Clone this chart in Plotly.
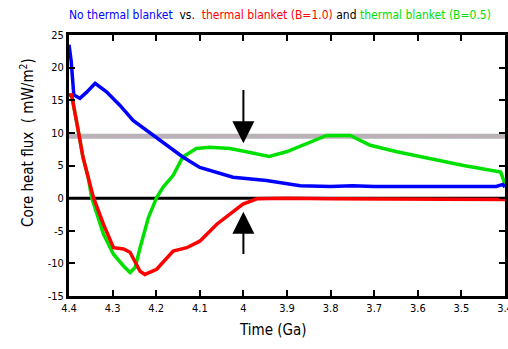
import plotly.graph_objects as go

# Time (Ga) and core heat flux (mW/m^2)
t_blue = [4.4, 4.395, 4.389, 4.375, 4.36, 4.34, 4.314, 4.283, 4.253, 4.222, 4.191, 4.139, 4.1, 4.024, 3.947, 3.87, 3.8, 3.75, 3.7, 3.6, 3.5, 3.42, 3.405, 3.4]
f_blue = [23.5, 21.0, 15.8, 15.3, 16.2, 17.6, 16.3, 14.2, 11.9, 10.4, 8.8, 6.3, 4.7, 3.2, 2.7, 1.9, 1.8, 1.9, 1.8, 1.8, 1.8, 1.8, 2.1, 1.7]

t_red = [4.4, 4.394, 4.379, 4.368, 4.356, 4.344, 4.321, 4.298, 4.275, 4.26, 4.237, 4.226, 4.199, 4.161, 4.13, 4.1, 4.061, 4.024, 4.001, 3.969, 3.9, 3.8, 3.7, 3.6, 3.5, 3.4]
f_red = [15.8, 15.8, 10.4, 6.3, 3.2, 0.1, -4.0, -7.6, -7.8, -8.3, -11.2, -11.7, -10.9, -8.1, -7.6, -6.6, -4.0, -2.0, -0.9, -0.1, 0.0, -0.1, -0.1, -0.2, -0.2, -0.2]

t_green = [4.4, 4.394, 4.379, 4.368, 4.356, 4.348, 4.321, 4.298, 4.275, 4.26, 4.248, 4.237, 4.218, 4.199, 4.184, 4.161, 4.139, 4.108, 4.077, 4.031, 3.993, 3.941, 3.901, 3.863, 3.809, 3.755, 3.709, 3.648, 3.571, 3.495, 3.41, 3.4]
f_green = [15.8, 15.8, 10.4, 6.3, 3.2, 0.1, -5.5, -8.6, -10.4, -11.4, -10.6, -7.6, -3.0, 0.1, 1.7, 3.5, 6.3, 7.6, 7.8, 7.6, 7.1, 6.4, 7.1, 8.1, 9.6, 9.6, 8.1, 7.1, 6.0, 5.0, 4.0, 2.2]

ref_level = 9.5
x_ticks = [4.4, 4.3, 4.2, 4.1, 4.0, 3.9, 3.8, 3.7, 3.6, 3.5, 3.4]
x_labels = ["4.4", "4.3", "4.2", "4.1", "4", "3.9", "3.8", "3.7", "3.6", "3.5", "3.4"]
y_ticks = [25, 20, 15, 10, 5, 0, -5, -10, -15]
y_labels = ["25", "20", "15", "10", "5", "0", "-5", "-10", "-15"]

font_fam = "DejaVu Sans Condensed, Liberation Sans, Arial"

fig = go.Figure()
fig.add_trace(go.Scatter(x=[4.4, 3.4], y=[ref_level, ref_level], mode="lines",
                         line=dict(color="#b4b4b4", width=5), hoverinfo="skip"))
fig.add_trace(go.Scatter(x=[4.4, 3.4], y=[ref_level, ref_level], mode="lines",
                         line=dict(color="#d9a0c8", width=1.5, dash="dot"), hoverinfo="skip"))
fig.add_trace(go.Scatter(x=[4.4, 3.4], y=[0, 0], mode="lines",
                         line=dict(color="black", width=3), hoverinfo="skip"))
fig.add_trace(go.Scatter(x=t_green, y=f_green, mode="lines",
                         line=dict(color="#00e000", width=3.5)))
fig.add_trace(go.Scatter(x=t_blue, y=f_blue, mode="lines",
                         line=dict(color="#0000ff", width=3.5)))
fig.add_trace(go.Scatter(x=t_red, y=f_red, mode="lines",
                         line=dict(color="#ff0000", width=3.5)))

# arrows
fig.add_annotation(x=4.0, y=8.4, ax=4.0, ay=16.8, xref="x", yref="y", axref="x", ayref="y",
                   text="", showarrow=True, arrowhead=2, arrowsize=2.2, arrowwidth=2, arrowcolor="black")
fig.add_annotation(x=4.0, y=-2.1, ax=4.0, ay=-8.8, xref="x", yref="y", axref="x", ayref="y",
                   text="", showarrow=True, arrowhead=2, arrowsize=2.2, arrowwidth=2, arrowcolor="black")

title = ('<span style="color:#0000ff">No thermal blanket</span>'
         '<span style="color:black">  vs.  </span>'
         '<span style="color:#ff0000">thermal blanket (B=1.0)</span>'
         '<span style="color:black"> and </span>'
         '<span style="color:#00e000">thermal blanket (B=0.5)</span>')
fig.add_annotation(x=(67 - 69) / 436, y=1 + 20 / 261, xref="paper", yref="paper",
                   xanchor="left", yanchor="middle",
                   text=title, showarrow=False, font=dict(family=font_fam, size=12))

fig.add_annotation(x=(27 - 69) / 436, y=(296 - 143) / 261, xref="paper", yref="paper",
                   xanchor="center", yanchor="middle", textangle=-90,
                   text="Core heat flux  ( mW/m<sup>2</sup>)", showarrow=False,
                   font=dict(family=font_fam, size=15))
fig.add_annotation(x=(273 - 69) / 436, y=(296 - 330) / 261, xref="paper", yref="paper",
                   xanchor="center", yanchor="middle",
                   text="Time (Ga)", showarrow=False,
                   font=dict(family=font_fam, size=15))

fig.update_layout(
    width=508, height=349,
    margin=dict(l=69, r=3, t=35, b=53, autoexpand=False),
    paper_bgcolor="white", plot_bgcolor="white",
    showlegend=False,
    font=dict(family=font_fam, size=11, color="black"),
)
fig.update_xaxes(range=[4.4, 3.4], tickvals=x_ticks, ticktext=x_labels,
                 ticks="inside", ticklen=6, tickwidth=2, tickcolor="black",
                 showline=True, linecolor="black", linewidth=3, mirror="ticks",
                 showgrid=False, zeroline=False, ticklabeloverflow="allow",
                 automargin=False)
fig.update_yaxes(range=[-15, 25], tickvals=y_ticks, ticktext=y_labels,
                 ticks="inside", ticklen=6, tickwidth=2, tickcolor="black",
                 showline=True, linecolor="black", linewidth=3, mirror="ticks",
                 showgrid=False, zeroline=False, automargin=False)

fig.write_html("out.html")
